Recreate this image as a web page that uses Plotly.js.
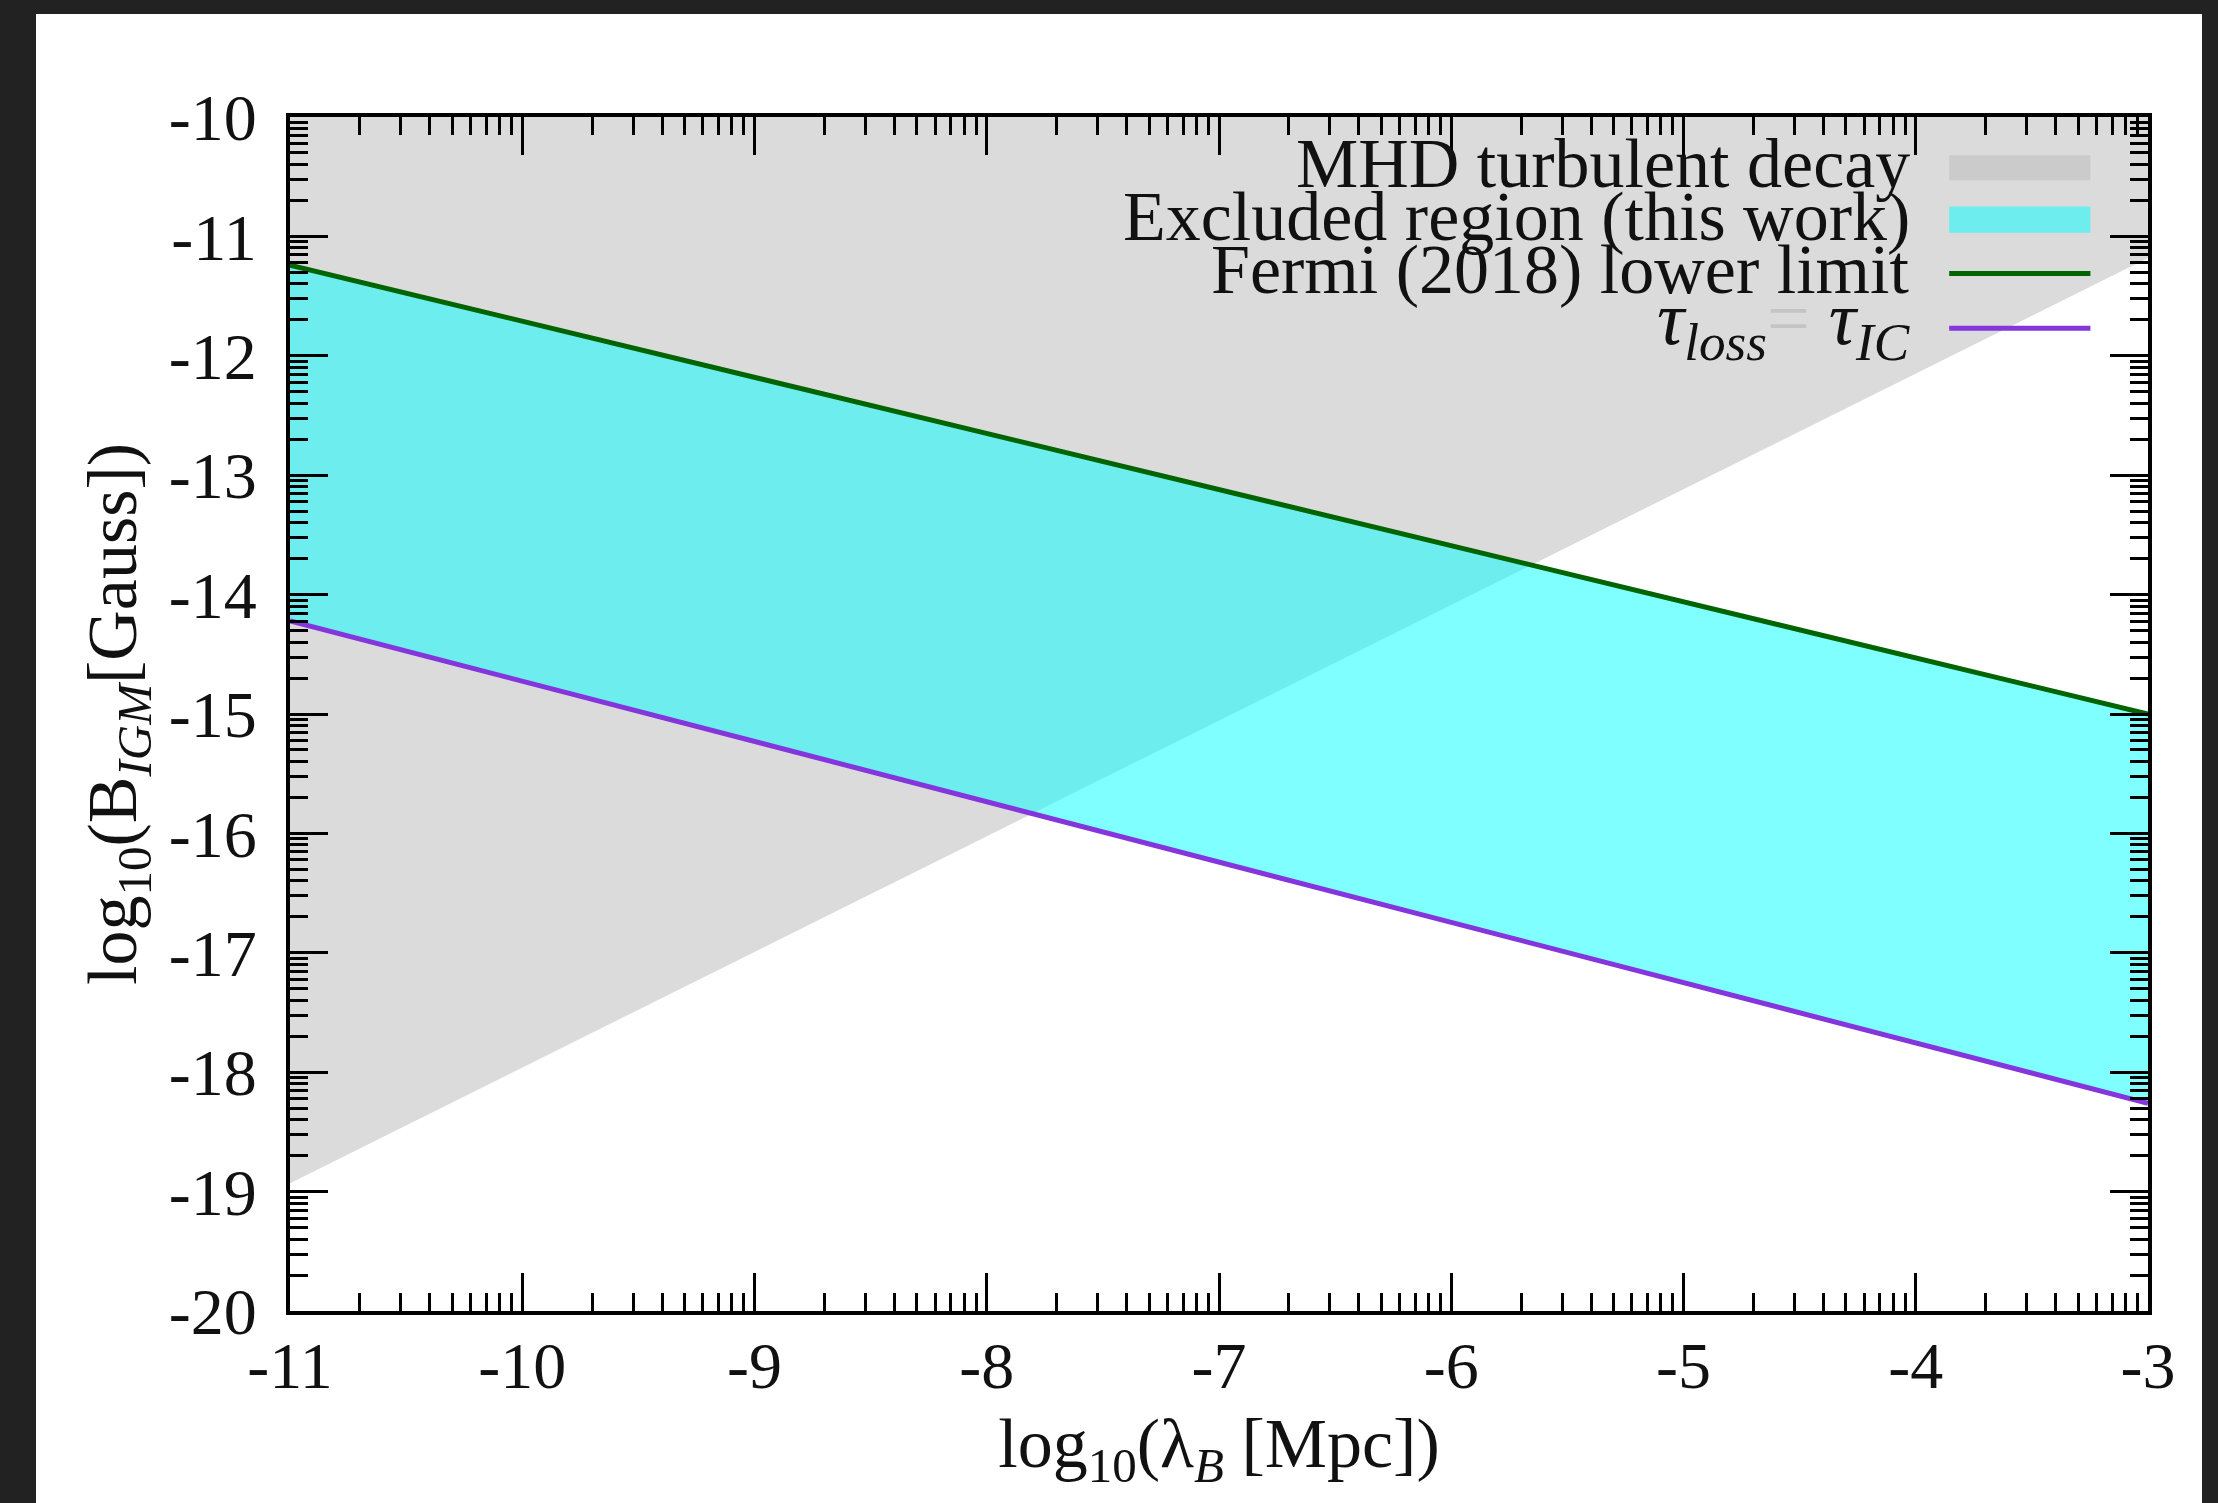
<!DOCTYPE html>
<html>
<head>
<meta charset="utf-8">
<script src="https://cdn.plot.ly/plotly-3.0.1.min.js"></script>
<style>
  html, body { margin: 0; padding: 0; background: #222222; width: 2218px; height: 1503px; overflow: hidden; }
  #chart { position: absolute; left: 36px; top: 14px; width: 2166px; height: 1489px; background: #ffffff; }
</style>
</head>
<body>
<div id="chart"></div>
<script>
// ---- data (log10 values) ----
const lambdaLog = [-11, -3];                 // log10(lambda_B [Mpc]) at the plot edges
const fermiLowerLimit = [-11.24, -15.0];     // Fermi (2018) lower limit
const tauLossEqTauIC = [-14.22, -18.26];     // tau_loss = tau_IC
const mhdDecayEdge = [-18.93, -11.18];       // lower edge of MHD turbulent decay region
const mhdDecayTop = [-10, -10];              // upper edge of MHD region (top of frame)

const xMajorTicks = [-11, -10, -9, -8, -7, -6, -5, -4, -3];
const xTickLabels = ['-11', '-10', '-9', '-8', '-7', '-6', '-5', '-4', '-3'];
const yMajorTicks = [-20, -19, -18, -17, -16, -15, -14, -13, -12, -11, -10];
const yTickLabels = ['-20', '-19', '-18', '-17', '-16', '-15', '-14', '-13', '-12', '-11', '-10'];

const legendLabels = [
  'MHD turbulent decay',
  'Excluded region (this work)',
  'Fermi (2018) lower limit',
  '<i>τ</i><sub><i>loss</i></sub><span style="color:#c4c4c4">=</span> <i>τ</i><sub><i>IC</i></sub>'
];

// ---- styling ----
const greyFill = 'rgba(190,190,190,0.55)';
const cyanFill = 'rgba(0,255,255,0.5)';
const greenLine = '#006400';
const purpleLine = '#8535dc';
const FONT = '"Liberation Serif", "DejaVu Serif", serif';

// log-style minor tick positions inside each decade (axis decoration)
function logMinors(start, end) {
  const out = [];
  for (let d = start; d < end; d++) {
    for (let k = 2; k <= 9; k++) out.push(d + Math.log10(k));
  }
  return out;
}

const traces = [
  { x: lambdaLog, y: mhdDecayTop, mode: 'lines', line: { width: 0, color: greyFill }, showlegend: false, hoverinfo: 'skip' },
  { x: lambdaLog, y: mhdDecayEdge, mode: 'lines', line: { width: 0, color: greyFill }, fill: 'tonexty', fillcolor: greyFill, showlegend: false, name: 'MHD turbulent decay' },
  { x: lambdaLog, y: tauLossEqTauIC, mode: 'lines', line: { width: 0, color: cyanFill }, showlegend: false, hoverinfo: 'skip' },
  { x: lambdaLog, y: fermiLowerLimit, mode: 'lines', line: { width: 0, color: cyanFill }, fill: 'tonexty', fillcolor: cyanFill, showlegend: false, name: 'Excluded region (this work)' },
  { x: lambdaLog, y: fermiLowerLimit, mode: 'lines', line: { width: 5, color: greenLine }, showlegend: false, name: 'Fermi (2018) lower limit' },
  { x: lambdaLog, y: tauLossEqTauIC, mode: 'lines', line: { width: 5, color: purpleLine }, showlegend: false, name: 'tau_loss = tau_IC' }
];

// manual legend (symbols to the right of right-aligned text, as in the figure)
const legX = 0.873, swX0 = 0.893, swX1 = 0.969;
const rowY = [0.961, 0.917, 0.872, 0.827];
const rowSize = [70, 70, 70, 76];
const annotations = legendLabels.map((t, i) => ({
  xref: 'paper', yref: 'paper', x: legX, y: rowY[i], xanchor: 'right', yanchor: 'middle',
  text: t, showarrow: false, font: { family: FONT, size: rowSize[i], color: '#111111' }
}));
const shapes = [
  { type: 'rect', xref: 'paper', yref: 'paper', x0: swX0, x1: swX1, y0: 0.947, y1: 0.968, fillcolor: greyFill, line: { width: 0 } },
  { type: 'rect', xref: 'paper', yref: 'paper', x0: swX0, x1: swX1, y0: 0.903, y1: 0.925, fillcolor: cyanFill, line: { width: 0 } },
  { type: 'line', xref: 'paper', yref: 'paper', x0: swX0, x1: swX1, y0: 0.869, y1: 0.869, line: { color: greenLine, width: 5 } },
  { type: 'line', xref: 'paper', yref: 'paper', x0: swX0, x1: swX1, y0: 0.823, y1: 0.823, line: { color: purpleLine, width: 5 } }
];

const axisCommon = {
  showgrid: false, zeroline: false,
  showline: true, linecolor: '#000000', linewidth: 4, mirror: 'allticks',
  ticks: 'inside', ticklen: 38, tickwidth: 3, tickcolor: '#000000',
  tickmode: 'array',
  tickfont: { family: FONT, size: 66, color: '#111111' }
};

const layout = {
  width: 2166, height: 1489,
  margin: { l: 254, r: 54, t: 103, b: 192, pad: 0 },
  paper_bgcolor: '#ffffff', plot_bgcolor: '#ffffff',
  showlegend: false,
  font: { family: FONT, color: '#111111' },
  xaxis: Object.assign({}, axisCommon, {
    range: [-11, -3],
    tickvals: xMajorTicks, ticktext: xTickLabels,
    ticklabelstandoff: -6,
    minor: { tickmode: 'array', tickvals: logMinors(-11, -3), ticks: 'inside', ticklen: 18, tickwidth: 3, tickcolor: '#000000', showgrid: false },
    title: { text: 'log<sub>10</sub>(λ<sub><i>B</i></sub> [Mpc])', font: { family: FONT, size: 70, color: '#111111' }, standoff: 18 }
  }),
  yaxis: Object.assign({}, axisCommon, {
    range: [-20, -10],
    tickvals: yMajorTicks, ticktext: yTickLabels,
    ticklabelstandoff: 16,
    minor: { tickmode: 'array', tickvals: logMinors(-20, -10), ticks: 'inside', ticklen: 18, tickwidth: 3, tickcolor: '#000000', showgrid: false },
    title: { text: 'log<sub>10</sub>(B<sub><i>IGM</i></sub>[Gauss])', font: { family: FONT, size: 70, color: '#111111' }, standoff: 10 }
  }),
  annotations: annotations,
  shapes: shapes
};

Plotly.newPlot('chart', traces, layout, { staticPlot: true, displayModeBar: false });
</script>
</body>
</html>
